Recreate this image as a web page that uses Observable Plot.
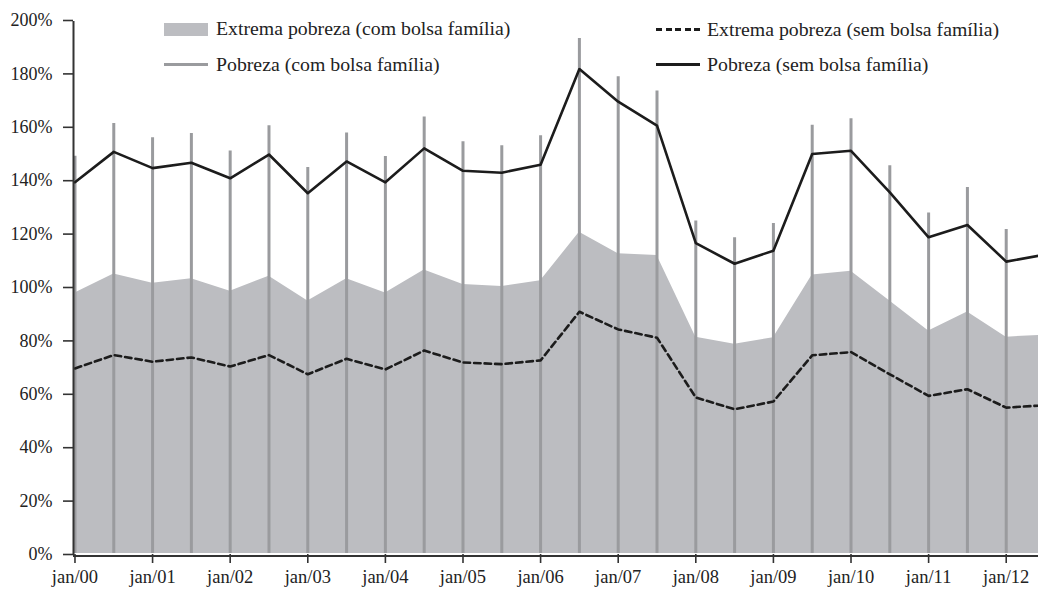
<!DOCTYPE html>
<html>
<head>
<meta charset="utf-8">
<script src="https://cdn.jsdelivr.net/npm/d3@7"></script>
<script src="https://cdn.jsdelivr.net/npm/@observablehq/plot@0.6"></script>
<style>
  html, body { margin: 0; padding: 0; background: #fff; }
  #wrap { position: relative; width: 1038px; height: 589px; font-family: "Liberation Serif", serif; color: #222; }
  .lg { position: absolute; font-size: 19.8px; line-height: 1; white-space: nowrap; transform: translateY(-50%); }
  .sw { position: absolute; }
</style>
</head>
<body>
<div id="wrap"></div>
<script>
// Semi-annual periods
const periods = ["jan/00","jul/00","jan/01","jul/01","jan/02","jul/02","jan/03","jul/03","jan/04","jul/04",
  "jan/05","jul/05","jan/06","jul/06","jan/07","jul/07","jan/08","jul/08","jan/09","jul/09",
  "jan/10","jul/10","jan/11","jul/11","jan/12","jul/12"];
// Pobreza (sem bolsa família) — solid black line
const pobrezaSem = [139.4,150.8,144.7,146.7,140.9,149.8,135.3,147.2,139.4,152.1,143.7,143.0,146.0,181.8,169.6,160.6,116.6,108.9,113.8,150.0,151.2,135.6,118.8,123.4,109.7,112.3];
// Pobreza (com bolsa família) — grey vertical bars (last one lies outside the picture)
const pobrezaCom = [149.2,161.4,156.1,157.7,151.1,160.6,144.9,157.9,149.1,163.9,154.6,153.1,156.8,193.3,178.9,173.6,124.9,118.6,124.0,160.8,163.2,145.6,127.9,137.5,121.7,null];
// Extrema pobreza (com bolsa família) — grey area
const extremaCom = [97.9,105.1,101.6,103.3,98.6,104.2,94.9,103.3,97.9,106.6,101.1,100.4,102.5,120.7,112.6,112.0,81.4,78.7,81.2,104.7,106.1,94.9,83.7,90.8,81.4,82.2];
// Extrema pobreza (sem bolsa família) — dashed black line
const extremaSem = [69.7,74.7,72.2,73.8,70.4,74.7,67.5,73.3,69.3,76.4,71.9,71.3,72.7,90.9,84.3,81.2,58.8,54.4,57.3,74.6,75.8,67.5,59.4,61.9,55.0,55.9];
// Axis ticks
const xTickLabels = ["jan/00","jan/01","jan/02","jan/03","jan/04","jan/05","jan/06","jan/07","jan/08","jan/09","jan/10","jan/11","jan/12"];
const yTicks = [0,20,40,60,80,100,120,140,160,180,200];

const toT = (lab) => 2000 + (+lab.slice(4)) + (lab.startsWith("jul") ? 0.5 : 0);
const data = periods.map((p, i) => ({
  t: toT(p), pobrezaSem: pobrezaSem[i], pobrezaCom: pobrezaCom[i],
  extremaCom: extremaCom[i], extremaSem: extremaSem[i]
}));
const xTicks = xTickLabels.map(toT);
const labelOf = new Map(xTickLabels.map(l => [toT(l), l]));

const xMin = 1999.981, xMax = 2012.416;
const ink = "#1c1c1c";

const chart = Plot.plot({
  width: 1038,
  height: 589,
  marginLeft: 73,
  marginRight: 0,
  marginTop: 20,
  marginBottom: 35,
  style: { fontFamily: "'Liberation Serif', serif", fontSize: "18px", color: "#222", background: "#fff", overflow: "hidden" },
  x: { domain: [xMin, xMax] },
  y: { domain: [0, 200] },
  marks: [
    Plot.areaY(data, { x: "t", y: "extremaCom", fill: "#bcbdc1", clip: true }),
    Plot.ruleX(data.filter(d => d.pobrezaCom != null), { x: "t", y1: 0, y2: "pobrezaCom", stroke: "#9a9b9e", strokeWidth: 3, clip: true }),
    Plot.lineY(data, { x: "t", y: "extremaSem", stroke: ink, strokeWidth: 2.6, strokeDasharray: "6.5,4", clip: true }),
    Plot.lineY(data, { x: "t", y: "pobrezaSem", stroke: ink, strokeWidth: 2.6, clip: true }),
    Plot.ruleY([0], { stroke: "#fff", strokeWidth: 2, dy: -0.5 }),
    Plot.ruleY([0], { stroke: "#333", strokeWidth: 2, dy: 1.5 }),
    Plot.ruleX([xMin], { y1: 0, y2: 200, stroke: "#333", strokeWidth: 2, dy: 1 }),
    Plot.axisX({ ticks: xTicks, tickFormat: d => labelOf.get(d), tickSize: 9, tickPadding: 6, stroke: "#333", strokeWidth: 1.6, fill: "#222", fontSize: 18.5, label: null }),
    Plot.axisY({ ticks: yTicks, tickFormat: d => d + "%", tickSize: 10, tickPadding: 11, stroke: "#333", strokeWidth: 1.6, fill: "#222", fontSize: 18, label: null })
  ]
});

const wrap = document.getElementById("wrap");
wrap.appendChild(chart);

// Legend (overlay inside the plotting area)
const legend = [
  { type: "rect", x: 164, y: 29, text: "Extrema pobreza (com bolsa família)", tx: 216 },
  { type: "grey", x: 164, y: 64.5, text: "Pobreza (com bolsa família)", tx: 216 },
  { type: "dash", x: 656, y: 29.5, text: "Extrema pobreza (sem bolsa família)", tx: 707 },
  { type: "solid", x: 656, y: 64.5, text: "Pobreza (sem bolsa família)", tx: 707 }
];
for (const l of legend) {
  const sw = document.createElement("div");
  sw.className = "sw";
  sw.style.left = l.x + "px";
  if (l.type === "rect") {
    sw.style.width = "44px"; sw.style.height = "13px"; sw.style.top = (l.y - 6.5) + "px"; sw.style.background = "#bcbdc1";
  } else if (l.type === "grey") {
    sw.style.width = "44px"; sw.style.height = "3px"; sw.style.top = (l.y - 1.5) + "px"; sw.style.background = "#9a9b9e";
  } else if (l.type === "dash") {
    sw.style.width = "44px"; sw.style.height = "3px"; sw.style.top = (l.y - 1.5) + "px";
    sw.style.background = `repeating-linear-gradient(to right, ${ink} 0 6px, transparent 6px 9.6px)`;
  } else {
    sw.style.width = "44px"; sw.style.height = "3px"; sw.style.top = (l.y - 1.5) + "px"; sw.style.background = ink;
  }
  wrap.appendChild(sw);
  const tx = document.createElement("div");
  tx.className = "lg";
  tx.style.left = l.tx + "px";
  tx.style.top = l.y + "px";
  tx.textContent = l.text;
  wrap.appendChild(tx);
}
</script>
</body>
</html>
